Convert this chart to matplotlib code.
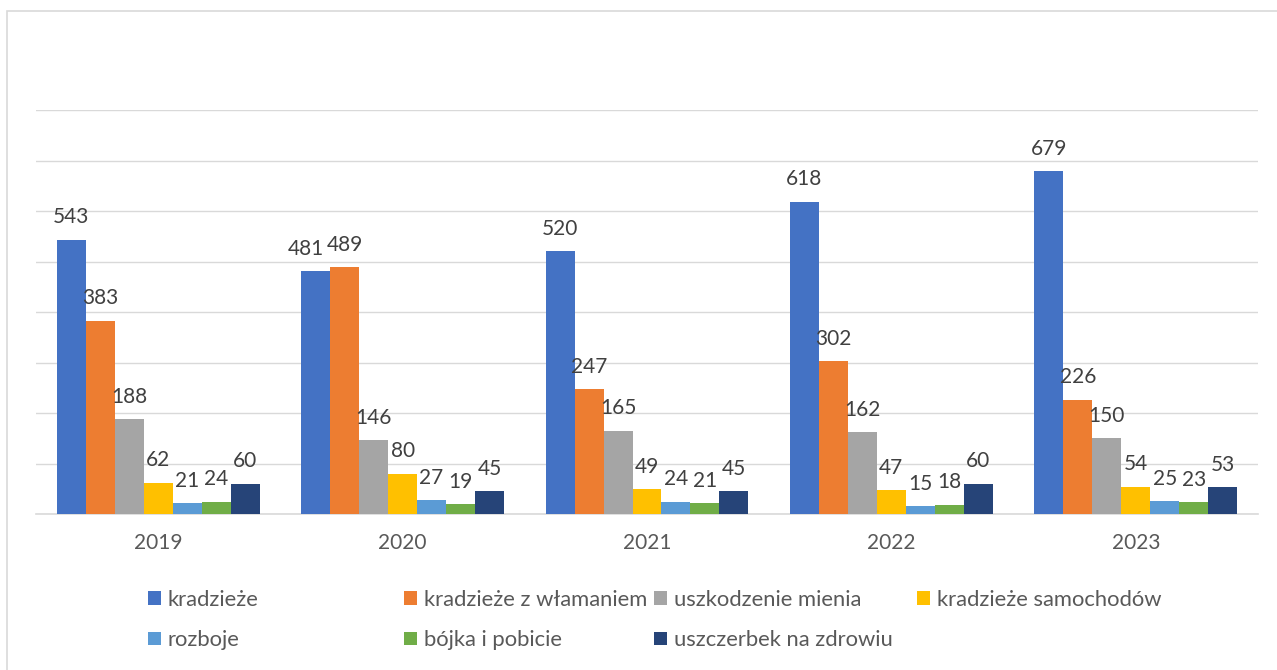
import numpy as np
import matplotlib
matplotlib.use('Agg')
import matplotlib.pyplot as plt
from matplotlib.patches import Rectangle, Patch

plt.rcParams['font.family'] = ['Lato', 'DejaVu Sans']

# data
years = ['2019', '2020', '2021', '2022', '2023']
categories = ['kradzieże', 'kradzieże z włamaniem', 'uszkodzenie mienia',
              'kradzieże samochodów', 'rozboje', 'bójka i pobicie',
              'uszczerbek na zdrowiu']
kradzieze = [543, 481, 520, 618, 679]
wlamania = [383, 489, 247, 302, 226]
uszkodzenia = [188, 146, 165, 162, 150]
samochody = [62, 80, 49, 47, 54]
rozboje = [21, 27, 24, 15, 25]
bojki = [24, 19, 21, 18, 23]
uszczerbek = [60, 45, 45, 60, 53]
series = [kradzieze, wlamania, uszkodzenia, samochody, rozboje, bojki, uszczerbek]
colors = ['#4472C4', '#ED7D31', '#A5A5A5', '#FFC000', '#5B9BD5', '#70AD47', '#264478']

W, H = 1277, 670
fig = plt.figure(figsize=(W / 100, H / 100), dpi=100)
ax = fig.add_axes([36 / W, 1 - 514 / H, (1258 - 36) / W, (514 - 110) / H])

# light frame of the chart area (cropped on the right and bottom)
fig.patches.append(Rectangle((7 / W, -0.1), 1.2, 1 - 11 / H + 0.1,
                             transform=fig.transFigure, fill=False,
                             edgecolor='#d9d9d9', linewidth=1.2))

x = np.arange(len(years))
bw = 0.1186
labels = []  # labels[i][j] -> series i, year j
for i, (vals, col) in enumerate(zip(series, colors)):
    bars = ax.bar(x + (i - 3) * bw, vals, width=bw, color=col, label=categories[i],
                  zorder=3)
    row = []
    for b, v in zip(bars, vals):
        t = ax.annotate(f'{v}', (b.get_x() + b.get_width() / 2, v),
                        xytext=(0, 9), textcoords='offset points',
                        ha='center', va='bottom', fontsize=15, color='#404040',
                        zorder=4)
        row.append(t)
    labels.append(row)

ax.set_xlim(-0.5, len(years) - 0.5)
ax.set_ylim(0, 800)
ax.set_yticks(np.arange(0, 801, 100))
ax.yaxis.grid(True, color='#d9d9d9', linewidth=1.0, zorder=0)
ax.set_axisbelow(True)
ax.tick_params(axis='y', length=0, labelleft=False)
ax.set_xticks(x)
ax.set_xticklabels(years)
ax.tick_params(axis='x', length=0, pad=14, labelsize=15, labelcolor='#595959')
for s in ['top', 'right', 'left']:
    ax.spines[s].set_visible(False)
ax.spines['bottom'].set_color('#d9d9d9')
ax.spines['bottom'].set_linewidth(1.2)

# nudge a label to the left when it collides with its right neighbour
fig.canvas.draw()
r = fig.canvas.get_renderer()
for j in range(len(years)):
    for i in range(len(series) - 1):
        a = labels[i][j].get_window_extent(r)
        b = labels[i + 1][j].get_window_extent(r)
        if a.overlaps(b):
            shift = (a.x1 - b.x0 + 2) * 72 / fig.dpi
            labels[i][j].set_position((-shift, 9))

# legend laid out in four columns, row by row like the original
handles = [Patch(facecolor=c, edgecolor='none') for c in colors]
columns = [[0, 4], [1, 5], [2, 6], [3]]
col_x = [148, 404, 654, 917]
leg_kw = dict(frameon=False, fontsize=15.8, labelcolor='#595959', borderpad=0,
              borderaxespad=0, handlelength=0.57, handleheight=0.57,
              handletextpad=0.33, labelspacing=0.92)
for idx, cx in zip(columns, col_x):
    yc = 620 if len(idx) == 2 else 600
    fig.legend([handles[k] for k in idx], [categories[k] for k in idx],
               loc='center left', bbox_to_anchor=(cx / W, 1 - yc / H), **leg_kw)

fig.savefig('out.png', dpi=100)
